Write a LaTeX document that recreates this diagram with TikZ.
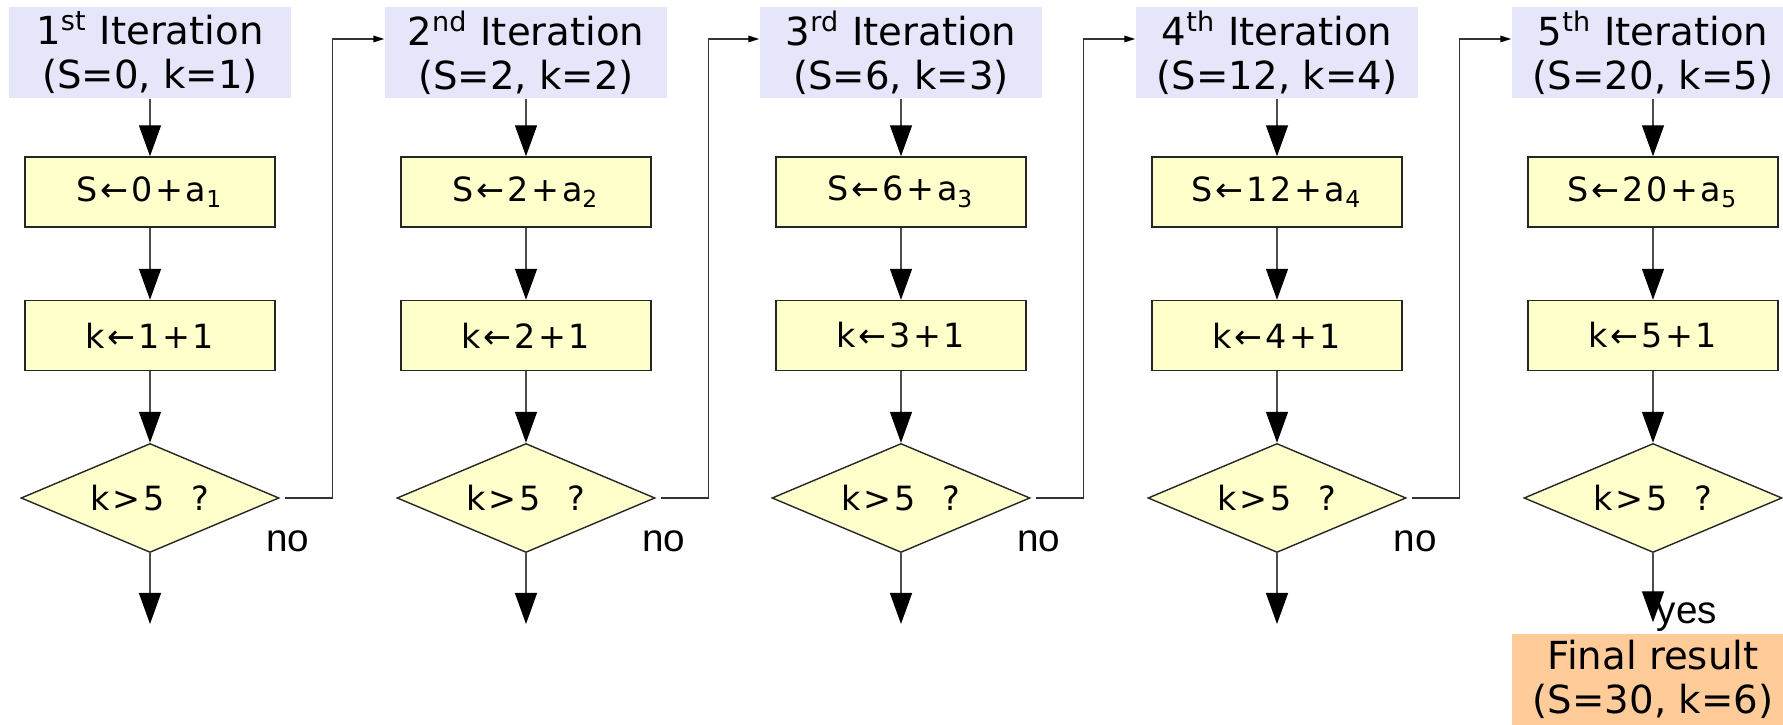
\documentclass[tikz,border=0pt]{standalone}
\usepackage{fontspec}
\setmainfont{DejaVu Sans}
\newfontfamily\arialfont{Liberation Sans}
\newfontfamily\boxfont[LetterSpace=8]{DejaVu Sans}
\usetikzlibrary{arrows.meta,shapes.geometric}
\definecolor{headblue}{RGB}{230,230,250}
\definecolor{boxyellow}{RGB}{255,255,204}
\definecolor{resultorange}{RGB}{255,204,153}
\tikzset{
  head/.style={fill=headblue, minimum width=2.82cm, minimum height=0.91cm, inner sep=0pt, align=center, font=\fontsize{11}{12.5}\selectfont},
  result/.style={head, fill=resultorange},
  calc box/.style={draw=black!85, line width=0.4pt, fill=boxyellow, minimum width=2.5cm, minimum height=0.7cm, inner sep=0pt, font=\boxfont\fontsize{9.5}{11}\selectfont},
  test/.style={diamond, draw=black!85, line width=0.4pt, fill=boxyellow, minimum width=2.58cm, minimum height=1.09cm, aspect=2.4, inner sep=0pt, font=\boxfont\fontsize{9.5}{11}\selectfont},
  flow/.style={draw=black!70, line width=0.4pt},
  back/.style={draw=black!80, line width=0.4pt, -{Triangle[width=0.065cm,length=0.11cm,color=black]}},
  tag/.style={font=\arialfont\fontsize{11}{13}\selectfont, inner sep=0pt}
}

\begin{document}
\begin{tikzpicture}[>={Triangle[width=0.22cm,length=0.31cm,color=black]}]
        \useasboundingbox (0,0) rectangle (17.83,7.25);
        % headers
        \node[head] (it1) at (1.50,6.725) {1\textsuperscript{st} Iteration\\(S=0, k=1)};
        \node[head] (it2) at (5.26,6.725) {2\textsuperscript{nd} Iteration\\(S=2, k=2)};
        \node[head] (it3) at (9.01,6.725) {3\textsuperscript{rd} Iteration\\(S=6, k=3)};
        \node[head] (it4) at (12.77,6.725) {4\textsuperscript{th} Iteration\\(S=12, k=4)};
        \node[head] (it5) at (16.53,6.725) {5\textsuperscript{th} Iteration\\(S=20, k=5)};
        % sum steps
        \node[calc box] (sum1) at (1.50,5.33) {S←0+a\textsubscript{1}};
        \node[calc box] (sum2) at (5.26,5.33) {S←2+a\textsubscript{2}};
        \node[calc box] (sum3) at (9.01,5.33) {S←6+a\textsubscript{3}};
        \node[calc box] (sum4) at (12.77,5.33) {S←12+a\textsubscript{4}};
        \node[calc box] (sum5) at (16.53,5.33) {S←20+a\textsubscript{5}};
        % counter steps
        \node[calc box] (inc1) at (1.50,3.895) {k←1+1};
        \node[calc box] (inc2) at (5.26,3.895) {k←2+1};
        \node[calc box] (inc3) at (9.01,3.895) {k←3+1};
        \node[calc box] (inc4) at (12.77,3.895) {k←4+1};
        \node[calc box] (inc5) at (16.53,3.895) {k←5+1};
        % tests
        \node[test] (test1) at (1.50,2.27) {k>5\hspace{0.8em}?};
        \node[test] (test2) at (5.26,2.27) {k>5\hspace{0.8em}?};
        \node[test] (test3) at (9.01,2.27) {k>5\hspace{0.8em}?};
        \node[test] (test4) at (12.77,2.27) {k>5\hspace{0.8em}?};
        \node[test] (test5) at (16.53,2.27) {k>5\hspace{0.8em}?};
        \coordinate (out1) at (1.50,1.01);
        \coordinate (out2) at (5.26,1.01);
        \coordinate (out3) at (9.01,1.01);
        \coordinate (out4) at (12.77,1.01);
        \node[result] (final) at (16.53,0.455) {Final result\\(S=30, k=6)};
        % down arrows
        \draw[flow,->] (it1) -- (sum1);
        \draw[flow,->] (it2) -- (sum2);
        \draw[flow,->] (it3) -- (sum3);
        \draw[flow,->] (it4) -- (sum4);
        \draw[flow,->] (it5) -- (sum5);
        \draw[flow,->] (sum1) -- (inc1);
        \draw[flow,->] (sum2) -- (inc2);
        \draw[flow,->] (sum3) -- (inc3);
        \draw[flow,->] (sum4) -- (inc4);
        \draw[flow,->] (sum5) -- (inc5);
        \draw[flow,->] (inc1) -- (test1);
        \draw[flow,->] (inc2) -- (test2);
        \draw[flow,->] (inc3) -- (test3);
        \draw[flow,->] (inc4) -- (test4);
        \draw[flow,->] (inc5) -- (test5);
        \draw[flow,->] (test1) -- (out1);
        \draw[flow,->] (test2) -- (out2);
        \draw[flow,->] (test3) -- (out3);
        \draw[flow,->] (test4) -- (out4);
        \draw[flow,->,shorten >=0.11cm] (test5) -- (final);
        % back to next iteration
        \draw[back] ([xshift=0.05cm]test1.east) -- ++(0.48,0) |- ([yshift=0.135cm]it2.west);
        \draw[back] ([xshift=0.05cm]test2.east) -- ++(0.48,0) |- ([yshift=0.135cm]it3.west);
        \draw[back] ([xshift=0.05cm]test3.east) -- ++(0.48,0) |- ([yshift=0.135cm]it4.west);
        \draw[back] ([xshift=0.05cm]test4.east) -- ++(0.48,0) |- ([yshift=0.135cm]it5.west);
        \node[tag] (no1) at (2.88,1.84) {no};
        \node[tag] (no2) at (6.64,1.84) {no};
        \node[tag] (no3) at (10.39,1.84) {no};
        \node[tag] (no4) at (14.15,1.84) {no};
        \node[tag, anchor=west] (yes) at (16.56,1.08) {yes};
    \end{tikzpicture}
\end{document}
